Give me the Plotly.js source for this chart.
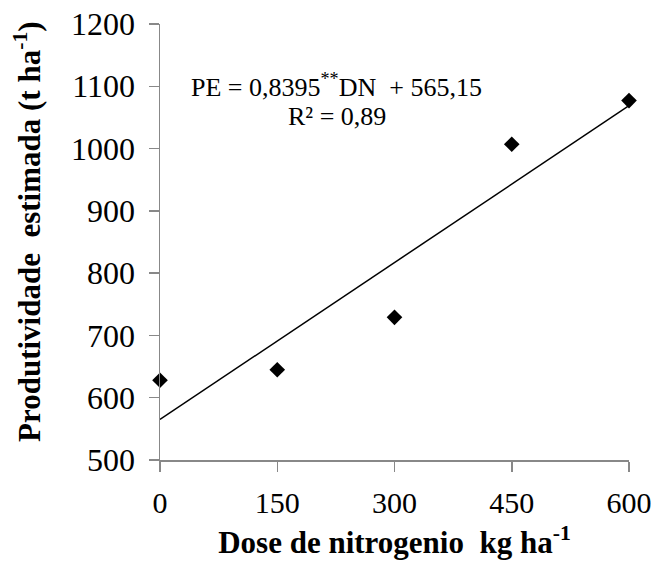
<!DOCTYPE html>
<html>
<head>
<meta charset="utf-8">
<script src="https://cdn.plot.ly/plotly-3.0.1.min.js"></script>
<style>html,body{margin:0;padding:0;background:#fff;}#chart{width:657px;height:565px;}</style>
</head>
<body>
<div id="chart"></div>
<script>
// Data
const doses = [0, 150, 300, 450, 600];
const productivity = [628, 645, 729, 1007, 1077];
const slope = 0.8395;
const intercept = 565.15;
const trendX = [0, 600];
const trendY = trendX.map(function (x) { return intercept + slope * x; });
const xTicks = [0, 150, 300, 450, 600];
const yTicks = [500, 600, 700, 800, 900, 1000, 1100, 1200];

const FONT = '"Liberation Serif", "Times New Roman", serif';

const traces = [
  {
    x: trendX, y: trendY, type: 'scatter', mode: 'lines',
    line: {color: '#000', width: 1.5}, hoverinfo: 'skip', showlegend: false
  },
  {
    x: doses, y: productivity, type: 'scatter', mode: 'markers',
    marker: {symbol: 'diamond', color: '#000', size: 12},
    cliponaxis: false, showlegend: false
  }
];

const layout = {
  width: 657, height: 565,
  margin: {l: 160, r: 28, t: 24, b: 105},
  paper_bgcolor: '#fff', plot_bgcolor: '#fff',
  font: {family: FONT, color: '#000', size: 29},
  showlegend: false,
  xaxis: {
    range: [0, 600], tickvals: xTicks, ticktext: xTicks.map(String),
    showgrid: false, zeroline: false, showline: true, linecolor: '#888', linewidth: 1.5,
    ticks: 'outside', ticklen: 10, tickcolor: '#888', tickwidth: 1.5,
    ticklabelstandoff: 5,
    tickfont: {family: FONT, size: 30, color: '#000'},
    title: {text: '<b>Dose de nitrogenio  kg ha<sup>-1</sup></b>', font: {family: FONT, size: 31, color: '#000'}, standoff: 14}
  },
  yaxis: {
    range: [500, 1200], tickvals: yTicks, ticktext: yTicks.map(String),
    showgrid: false, zeroline: false, showline: true, linecolor: '#888', linewidth: 1.5,
    ticks: 'outside', ticklen: 10, tickcolor: '#888', tickwidth: 1.5,
    ticklabelstandoff: 7,
    tickfont: {family: FONT, size: 32, color: '#000'}
  },
  annotations: [
    {xref: 'paper', yref: 'paper', x: 0, y: 0.523, xshift: -132, xanchor: 'center', yanchor: 'middle',
     showarrow: false, textangle: -90,
     text: '<b>Produtividade  estimada (t ha<sup>-1</sup>)</b>', font: {family: FONT, size: 31, color: '#000'}},
    {xref: 'paper', yref: 'paper', x: 0.377, y: 0.858, xanchor: 'center', yanchor: 'middle', showarrow: false,
     text: 'PE = 0,8395<sup>**</sup>DN  + 565,15', font: {family: FONT, size: 26, color: '#000'}},
    {xref: 'paper', yref: 'paper', x: 0.377, y: 0.787, xanchor: 'center', yanchor: 'middle', showarrow: false,
     text: 'R² = 0,89', font: {family: FONT, size: 26, color: '#000'}}
  ]
};

Plotly.newPlot('chart', traces, layout, {displayModeBar: false, staticPlot: true});
</script>
</body>
</html>
